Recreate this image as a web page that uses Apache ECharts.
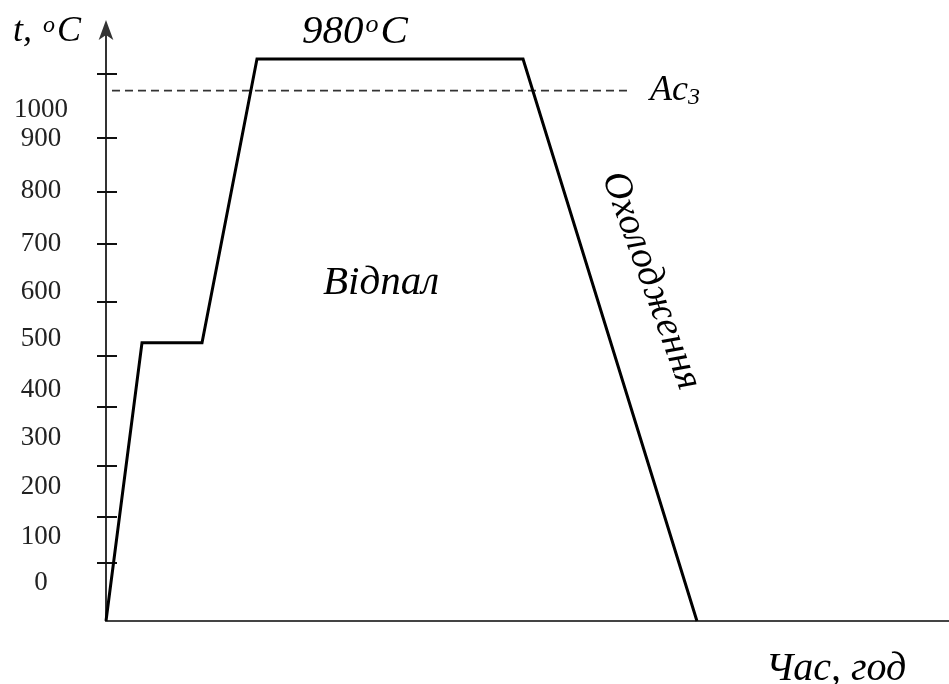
<!DOCTYPE html>
<html>
<head>
<meta charset="utf-8">
<script src="https://cdn.jsdelivr.net/npm/echarts@6/dist/echarts.min.js"></script>
<style>
html,body{margin:0;padding:0;background:#fff;}
#chart{width:949px;height:684px;}
</style>
</head>
<body>
<div id="chart"></div>
<script>
// Schematic annealing cycle: time (arbitrary units) vs temperature (schematic units)
var timePoints = [0, 4.27, 11.39, 17.91, 49.47, 70.1];
var tempPoints = [-77, 487, 487, 1062, 1062, -77];
var ac3Time = [0.71, 61.9];
var ac3Temp = [998, 998];
var tickLabels = ['0', '100', '200', '300', '400', '500', '600', '700', '800', '900', '1000'];
var labelPositions = [0, 93, 194, 295, 392, 495, 590, 687, 794, 901, 959];
var tickPositions = [42, 135, 238, 357, 460, 571, 687, 794, 903, 1032];

var cycleData = timePoints.map(function (t, i) { return [t, tempPoints[i]]; });
var ac3Data = ac3Time.map(function (t, i) { return [t, ac3Temp[i]]; });

var chart = echarts.init(document.getElementById('chart'), null, {renderer: 'canvas'});
var serif = "'Liberation Serif', 'Times New Roman', serif";
var yMin = -77, yMax = 1133;

var option = {
  animation: false,
  backgroundColor: '#fff',
  grid: {left: 106, right: 0, top: 24, bottom: 63, containLabel: false},
  xAxis: {
    type: 'value', min: 0, max: 100,
    axisLine: {show: true, onZero: false, lineStyle: {color: '#444', width: 2}},
    axisTick: {show: false}, axisLabel: {show: false}, splitLine: {show: false}
  },
  yAxis: [{
    type: 'value', min: yMin, max: yMax, position: 'left',
    axisLine: {show: true, onZero: false, symbol: ['none', 'arrow'], symbolSize: [11, 20],
      symbolOffset: [0, 4],
      lineStyle: {color: '#333', width: 2}},
    axisTick: {show: true, inside: false, length: 9, customValues: tickPositions,
      lineStyle: {color: '#111', width: 2}},
    axisLabel: {show: true, customValues: labelPositions, align: 'center', margin: 65,
      color: '#222', fontFamily: serif, fontSize: 27,
      formatter: function (v) {
        var i = labelPositions.indexOf(v);
        return i >= 0 ? tickLabels[i] : '';
      }},
    splitLine: {show: false}
  }, {
    type: 'value', min: yMin, max: yMax, position: 'left',
    axisLine: {show: false},
    axisTick: {show: true, inside: true, length: 11, customValues: tickPositions,
      lineStyle: {color: '#111', width: 2}},
    axisLabel: {show: false}, splitLine: {show: false}
  }],
  series: [{
    type: 'line', data: ac3Data, yAxisIndex: 0, symbol: 'none', silent: true,
    lineStyle: {color: '#333', width: 1.8, type: [8, 5]}, z: 1
  }, {
    type: 'line', data: cycleData, yAxisIndex: 0, symbol: 'none', silent: true,
    lineStyle: {color: '#000', width: 3, join: 'miter'}, z: 2
  }],
  graphic: [
    {type: 'text', x: 13, y: 32, style: {
      text: '{a|t, }{s|o}{a|C}', align: 'left', verticalAlign: 'middle',
      rich: {
        a: {fontFamily: serif, fontStyle: 'italic', fontSize: 36, lineHeight: 36, fill: '#000'},
        s: {fontFamily: serif, fontStyle: 'italic', fontSize: 24, lineHeight: 16, verticalAlign: 'top', fill: '#000', padding: [0, 2, 0, 2]}
      }}},
    {type: 'text', x: 355, y: 32, style: {
      text: '{a|980}{s|o}{a|C}', align: 'center', verticalAlign: 'middle',
      rich: {
        a: {fontFamily: serif, fontStyle: 'italic', fontSize: 41, lineHeight: 40, fill: '#000'},
        s: {fontFamily: serif, fontStyle: 'italic', fontSize: 26, lineHeight: 18, verticalAlign: 'top', fill: '#000', padding: [0, 2, 0, 2]}
      }}},
    {type: 'text', x: 650, y: 91, style: {
      text: '{a|Ac}{s|3}', align: 'left', verticalAlign: 'middle',
      rich: {
        a: {fontFamily: serif, fontStyle: 'italic', fontSize: 36, lineHeight: 38, fill: '#000'},
        s: {fontFamily: serif, fontStyle: 'italic', fontSize: 24, lineHeight: 14, verticalAlign: 'bottom', fill: '#000'}
      }}},
    {type: 'text', x: 381, y: 283, style: {
      text: 'Відпал', align: 'center', verticalAlign: 'middle',
      fontFamily: serif, fontStyle: 'italic', fontSize: 41, fill: '#000'}},
    {type: 'text', x: 651, y: 281, rotation: -70 * Math.PI / 180, style: {
      text: 'Охолодження', align: 'center', verticalAlign: 'middle',
      fontFamily: serif, fontStyle: 'italic', fontSize: 39, fill: '#000'}},
    {type: 'text', x: 836, y: 669, style: {
      text: 'Час, год', align: 'center', verticalAlign: 'middle',
      fontFamily: serif, fontStyle: 'italic', fontSize: 40, fill: '#000'}}
  ]
};
chart.setOption(option);
</script>
</body>
</html>
